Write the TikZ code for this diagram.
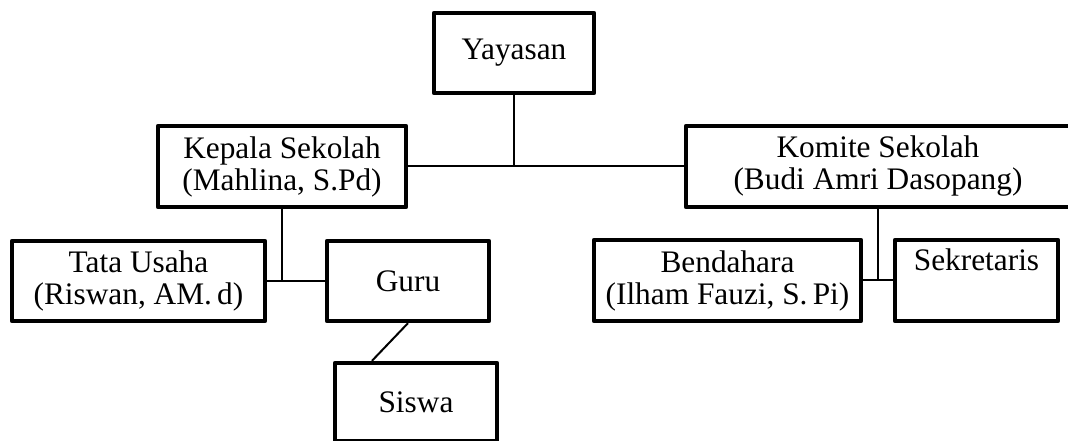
\documentclass[tikz,border=0pt]{standalone}
\usepackage{fontspec}
\setmainfont{Liberation Serif}
\usetikzlibrary{calc}
\begin{document}
\begin{tikzpicture}[x=0.75pt,y=-0.75pt,
  orgbox/.style={draw=black,line width=3.2pt,rectangle,inner sep=0pt,align=center,
    font=\fontsize{23.5}{24}\selectfont,line join=round},
  link/.style={draw=black,line width=1.5pt}]
\useasboundingbox (0,0) rectangle (1068,441);
\node[orgbox,minimum width=120pt,minimum height=60pt] (yay) at (514,53) {Yayasan};
\node[orgbox,minimum width=186pt,minimum height=60.75pt] (kep) at (282,166.5) {Kepala Sekolah\\(Mahlina, S.Pd)};
\node[orgbox,minimum width=288pt,minimum height=60.75pt] (kom) at (878,166.5) {Komite Sekolah\\(Budi Amri Dasopang)};
\node[orgbox,minimum width=189.75pt,minimum height=60pt] (tata) at (138.5,281) {Tata Usaha\\(Riswan, AM.\,d)};
\node[orgbox,minimum width=121.5pt,minimum height=60pt] (guru) at (408,281) {Guru};
\node[orgbox,minimum width=121.5pt,minimum height=58.5pt] (sis) at (416,402) {Siswa};
\node[orgbox,minimum width=200.25pt,minimum height=60.75pt] (bend) at (727.5,280.5) {Bendahara\\(Ilham Fauzi, S.\,Pi)};
\node[orgbox,minimum width=122.25pt,minimum height=60.75pt] (sek) at (976.5,280.5) {Sekretaris\\\strut};
\draw[link] (yay.south) -- (yay.south |- kep.east);
\draw[link] (kep.east) -- (kom.west);
\draw[link] (kep.south) -- (kep.south |- tata.east);
\draw[link] (tata.east) -- (guru.west);
\draw[link] (kom.south) -- (kom.south |- bend.east);
\draw[link] (bend.east) -- (sek.west);
\draw[link] (guru.south) -- ($(sis.north west)!0.235!(sis.north east)$);
\end{tikzpicture}
\end{document}
